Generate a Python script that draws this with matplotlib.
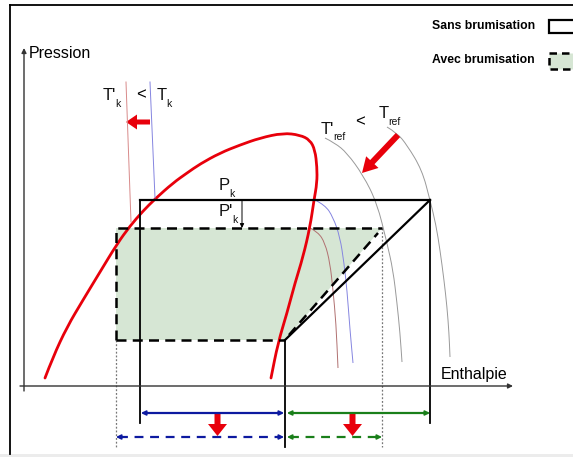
import matplotlib
matplotlib.use("Agg")
import matplotlib.pyplot as plt
import matplotlib.patches as mpatches
from matplotlib.path import Path

# === Schema P-h (coordonnees du dessin, y vers le bas) ===
W, H = 573, 457

# niveaux de pression et enthalpies du cycle
p_k = 200          # condensation sans brumisation
p_k2 = 228         # condensation avec brumisation
p_0 = 340          # evaporation
h_liq = 140        # sortie condenseur sans brumisation
h_liq2 = 116       # sortie condenseur avec brumisation
h_evap = 285       # sortie evaporateur / aspiration
h_ref = 430        # refoulement sans brumisation
h_ref2 = 382       # refoulement avec brumisation

# courbe de saturation (cloche)
dome_h = [45, 53, 67, 83, 100, 117, 130, 143, 155, 173, 187, 200, 220, 240, 260,
          283, 300, 310, 315, 317, 317, 314, 310, 303, 295, 287, 278, 271]
dome_p = [378, 357, 327, 300, 272, 244, 226, 211, 199, 183, 173, 164, 153, 145, 138,
          133, 135, 140, 150, 167, 183, 200, 227, 257, 283, 313, 343, 378]

# isothermes de condensation
tk_liq_h = [150, 155]
tk_liq_p = [82, 198]
tk_vap_h = [315, 325, 333, 340, 344, 347, 350, 353]
tk_vap_p = [200, 205, 217, 237, 263, 290, 330, 363]
tk2_liq_h = [126, 131]
tk2_liq_p = [82, 222]
tk2_vap_h = [310, 318, 325, 330, 333, 336, 338]
tk2_vap_p = [228, 232, 243, 263, 290, 323, 368]

# isothermes de refoulement
tref_h = [387, 397, 407, 422, 430, 436, 440, 444, 447, 449, 450]
tref_p = [127, 133, 145, 170, 200, 225, 250, 280, 307, 333, 357]
tref2_h = [325, 335, 347, 363, 377, 387, 393, 397, 400, 402]
tref2_p = [138, 143, 153, 175, 203, 243, 270, 303, 333, 362]

# fleches du bas (effet frigorifique / travail)
y_solid = 413
y_dash = 437

RED = "#e8000b"
BLUE = "#0d1aa0"
GREEN = "#1a7f1a"
FILL = "#d6e6d4"

plt.rcParams["font.family"] = ["Liberation Sans", "DejaVu Sans"]

fig = plt.figure(figsize=(W / 100, H / 100), dpi=100)
ax = fig.add_axes([0, 0, 1, 1])
ax.set_xlim(0, W)
ax.set_ylim(H, 0)
ax.axis("off")


def curve(xs, ys, **kw):
    """Trace une courbe lissee (courbes de Bezier quadratiques du Path)."""
    pts = list(zip(xs, ys))
    verts = [pts[0]]
    codes = [Path.MOVETO]
    for i in range(1, len(pts) - 1):
        mid = ((pts[i][0] + pts[i + 1][0]) / 2, (pts[i][1] + pts[i + 1][1]) / 2)
        verts += [pts[i], mid]
        codes += [Path.CURVE3, Path.CURVE3]
    verts.append(pts[-1])
    codes.append(Path.LINETO)
    ax.add_patch(mpatches.PathPatch(Path(verts, codes), facecolor="none", **kw))


def label(x, y, main, sub, size=12, dx=None):
    """Texte avec indice (T'k, Pk ...)."""
    t = ax.text(x, y, main, fontsize=size, ha="left", va="center", color="#111111")
    if dx is None:
        dx = 10 if "'" not in main else 12
    ax.text(x + dx, y + 8, sub, fontsize=size * 0.62, ha="left", va="center", color="#111111")
    return t


# cadre
ax.plot([10, W], [5, 5], color="black", lw=1.3)
ax.plot([10, 10], [5, 454], color="black", lw=1.3)
ax.add_patch(mpatches.Rectangle((0, 454), W, 3, color="#ececec", lw=0))

# axes du diagramme
ax.annotate("", xy=(24, 48), xytext=(24, 391),
            arrowprops=dict(arrowstyle="-|>", color="#333333", lw=1, mutation_scale=7,
                            shrinkA=0, shrinkB=0))
ax.annotate("", xy=(513, 386), xytext=(20, 386),
            arrowprops=dict(arrowstyle="-|>", color="#333333", lw=1, mutation_scale=7,
                            shrinkA=0, shrinkB=0))
ax.text(29, 53, "Pression", fontsize=11.5, va="center", ha="left")
ax.text(441, 374, "Enthalpie", fontsize=11.5, va="center", ha="left")

# cycle avec brumisation (zone verte)
zone = [(h_liq2, p_0), (h_liq2, p_k2), (h_ref2, p_k2), (h_evap, p_0)]
ax.add_patch(mpatches.Polygon(zone, closed=True, facecolor=FILL, edgecolor="none"))

# lignes de rappel pointillees
ax.plot([h_liq2, h_liq2], [p_0, 447], color="#777777", lw=0.9, ls=(0, (1.5, 1.5)))
ax.plot([h_ref2, h_ref2], [p_k2, 447], color="#777777", lw=0.9, ls=(0, (1.5, 1.5)))

# isothermes
ax.plot(tk_liq_h, tk_liq_p, color="#8585e0", lw=0.7)
curve(tk_vap_h, tk_vap_p, edgecolor="#8585e0", lw=0.7)
ax.plot(tk2_liq_h, tk2_liq_p, color="#d88a8a", lw=0.7)
curve(tk2_vap_h, tk2_vap_p, edgecolor="#b07070", lw=0.7)
curve(tref_h, tref_p, edgecolor="#999999", lw=0.7)
curve(tref2_h, tref2_p, edgecolor="#999999", lw=0.7)

# cycle sans brumisation
ax.plot([h_liq, h_ref], [p_k, p_k], color="black", lw=1.6)
ax.plot([h_evap, h_ref], [p_0, p_k], color="black", lw=1.6)
ax.plot([h_liq, h_liq], [p_k, 423], color="black", lw=1.3)
ax.plot([h_ref, h_ref], [p_k, 423], color="black", lw=1.3)
ax.plot([h_evap, h_evap], [p_0, 447], color="black", lw=1.3)

# cycle avec brumisation (tirets)
dash = (0, (4, 2.5))
ax.plot([h_liq2, h_liq2, h_ref2], [p_0, p_k2, p_k2], color="black", lw=1.8, ls=dash)
ax.plot([h_liq2, h_evap], [p_0, p_0], color="black", lw=1.8, ls=dash)
ax.plot([h_evap + 4, h_ref2 - 4], [p_0 - 5, p_k2 + 5], color="black", lw=1.8, ls=dash)

# cloche de saturation
curve(dome_h, dome_p, edgecolor=RED, lw=2, capstyle="round")

# Pk -> P'k
ax.annotate("", xy=(242, p_k2), xytext=(242, p_k),
            arrowprops=dict(arrowstyle="-|>", color="black", lw=0.7, mutation_scale=6,
                            shrinkA=0, shrinkB=0))
label(219, 186, "P", "k")
label(219, 212, "P'", "k", dx=13)

# etiquettes des temperatures
label(103, 96, "T'", "k")
ax.text(136, 95, "<", fontsize=12, ha="left", va="center")
label(157, 96, "T", "k", dx=9)
label(321, 129, "T'", "ref")
ax.text(355, 122, "<", fontsize=12, ha="left", va="center")
label(379, 114, "T", "ref", dx=9)

# grosses fleches rouges
ax.add_patch(mpatches.FancyArrow(150, 122, -24, 0, width=5, head_width=15, head_length=11,
                                 length_includes_head=True, color=RED, lw=0))
ax.add_patch(mpatches.FancyArrow(398, 135, -36, 38, width=6, head_width=17, head_length=15,
                                 length_includes_head=True, color=RED, lw=0))
for xa in [(h_liq + h_evap) / 2 + 5, (h_evap + h_ref) / 2 - 5]:
    ax.add_patch(mpatches.FancyArrow(xa, y_solid, 0, 23, width=6, head_width=19, head_length=12,
                                     length_includes_head=True, color=RED, lw=0))


def double_arrow(x0, x1, y, color, dashed=False):
    ls = (0, (4, 3)) if dashed else "-"
    ax.plot([x0 + 3, x1 - 3], [y, y], color=color, lw=1.6, ls=ls)
    for a, b in [(x0 + 8, x0), (x1 - 8, x1)]:
        ax.annotate("", xy=(b, y), xytext=(a, y),
                    arrowprops=dict(arrowstyle="-|>", color=color, lw=1.2, mutation_scale=7,
                                    shrinkA=0, shrinkB=0))


double_arrow(h_liq + 1, h_evap - 1, y_solid, BLUE)
double_arrow(h_evap + 2, h_ref, y_solid, GREEN)
double_arrow(h_liq2, h_evap - 1, y_dash, BLUE, dashed=True)
double_arrow(h_evap + 2, h_ref2, y_dash, GREEN, dashed=True)

# legende
ax.text(535, 26, "Sans brumisation", fontsize=8.8, fontweight="bold",
        ha="right", va="center")
ax.text(535, 60, "Avec brumisation", fontsize=8.8, fontweight="bold",
        ha="right", va="center")
ax.add_patch(mpatches.Rectangle((549, 20), 40, 13, facecolor="white", edgecolor="black",
                                lw=1.6))
ax.add_patch(mpatches.Rectangle((549, 53), 40, 16, facecolor=FILL, edgecolor="black",
                                lw=1.8, ls=(0, (3, 2))))

fig.savefig("out.png", dpi=100)
